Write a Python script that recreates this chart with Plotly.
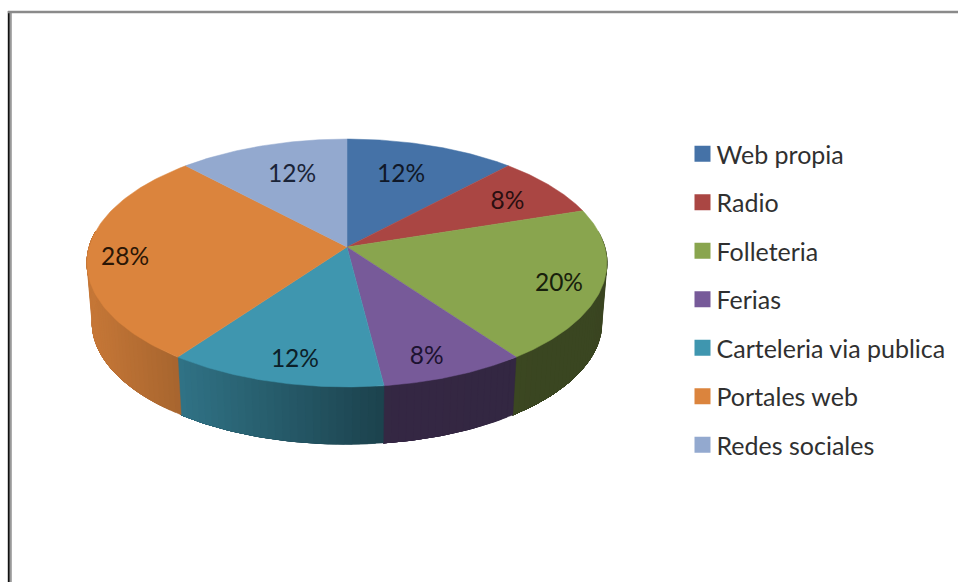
import numpy as np
import plotly.graph_objects as go

categories = ["Web propia", "Radio", "Folleteria", "Ferias", "Carteleria via publica", "Portales web", "Redes sociales"]
shares = [12, 8, 20, 8, 12, 28, 12]
colors = ["#4572A7", "#AA4643", "#89A54E", "#775A99", "#3F96AF", "#DB843D", "#93A9CF"]
label_reach = [0.70, 0.77, 0.84, 0.84, 0.835, 0.856, 0.70]
label_turn = [-2.6, 0.7, 1.3, 2.3, -1.9, -1.3, 2.3]
label_colors = ["#101828", "#2a0f10", "#18200c", "#1c1230", "#0c2028", "#2a1606", "#1a2438"]

W, H = 958, 582
CX, CY = 347, 247          # apex of the pie on the page
RX, RY, PERSP = 257.8, 121.9, 0.129
WALL_SCALE, WALL_DROP = 0.98, 60
LABEL_DROP = 3
SHADE_X = [90, 180, 383, 610]
SHADE_K = [0.90, 0.76, 0.44, 0.42]


def project(theta, r=1.0):
    u, v = r * np.sin(theta), -r * np.cos(theta)
    d = 1 - PERSP * v
    return CX + RX * u / d, CY + RY * v / d


def lower(x, y):
    return CX + WALL_SCALE * (x - CX), CY + WALL_SCALE * (y - CY) + WALL_DROP


def shade(hex_color, k):
    rgb = [int(hex_color[i:i + 2], 16) for i in (1, 3, 5)]
    return "rgb(%d,%d,%d)" % tuple(round(c * k) for c in rgb)


def wall_polygon(a0, a1, n):
    t = np.linspace(a0, a1, n)
    xt, yt = project(t)
    xb, yb = lower(xt, yt)
    return np.r_[xt, xb[::-1], xt[0]], np.r_[yt, yb[::-1], yt[0]]


total = sum(shares)
edges = np.radians(np.cumsum([0] + shares) / total * 360)
fig = go.Figure()

# side wall: visible front half of the disc; each shaded strip is painted
# from its own start to the end of the slice, and the next one covers the rest
wall_start = np.pi * 0.5 - 0.13
wall_end = np.pi * 1.5 + 0.13
for i, col in enumerate(colors):
    a0, a1 = max(edges[i], wall_start), min(edges[i + 1], wall_end)
    if a1 <= a0:
        continue
    n = max(2, int(np.degrees(a1 - a0) / 1.5))
    steps = np.linspace(a0, a1, n + 1)
    for s0 in steps[:-1]:
        px, py = wall_polygon(s0, a1, 40)
        s_x = project(s0 + (a1 - a0) / (2 * n))[0]
        c = shade(col, float(np.interp(s_x, SHADE_X, SHADE_K)))
        fig.add_trace(go.Scatter(x=px, y=py, mode="lines", fill="toself", fillcolor=c,
                                 line=dict(color=c, width=0.4), showlegend=False, hoverinfo="skip"))

# top face
for i, col in enumerate(colors):
    t = np.linspace(edges[i], edges[i + 1], 80)
    xt, yt = project(t)
    fig.add_trace(go.Scatter(
        x=np.r_[CX, xt, CX], y=np.r_[CY, yt, CY],
        mode="lines", fill="toself", fillcolor=col, line=dict(color=col, width=0.5),
        name=categories[i], showlegend=False, hoverinfo="name"))

# value labels
mid = (edges[:-1] + edges[1:]) / 2 + np.radians(label_turn)
lx, ly = project(mid, np.array(label_reach))
fig.add_trace(go.Scatter(
    x=lx, y=ly + LABEL_DROP, mode="text", text=[f"{s}%" for s in shares],
    textposition="middle center",
    textfont=dict(family="Lato", size=24.5, color=label_colors),
    showlegend=False, hoverinfo="skip"))

# legend
for i, name in enumerate(categories):
    fig.add_trace(go.Scatter(
        x=[None], y=[None], mode="markers", name=name, legendgroup=name,
        marker=dict(symbol="square", size=16, color=colors[i])))

fig.update_layout(
    width=W, height=H, margin=dict(l=0, r=0, t=0, b=0),
    paper_bgcolor="white", plot_bgcolor="white",
    xaxis=dict(range=[0, W], visible=False, fixedrange=True),
    yaxis=dict(range=[H, 0], visible=False, fixedrange=True),
    legend=dict(x=688.5 / W, y=1 - 131 / H, xanchor="left", yanchor="top",
                font=dict(family="Lato", size=25, color="#303030"),
                tracegroupgap=13, itemwidth=30, indentation=-12, bgcolor="rgba(0,0,0,0)"),
    shapes=[
        dict(type="line", xref="x", yref="y", x0=8.8, x1=8.8, y0=11, y1=H, line=dict(color="#111111", width=2)),
        dict(type="line", xref="x", yref="y", x0=10.8, x1=10.8, y0=11, y1=H, line=dict(color="#999999", width=2)),
        dict(type="line", xref="x", yref="y", x0=8, x1=W, y0=12, y1=12, line=dict(color="#8a8a8a", width=2.5)),
    ],
)
post = """
document.body.style.margin='0';document.body.style.overflow='hidden';
function nudge(){document.querySelectorAll('.legendsymbols').forEach(function(g){g.setAttribute('transform','translate(6,0)');});}
nudge();setTimeout(nudge,0);setTimeout(nudge,50);
var gd=document.getElementById('{plot_id}');if(gd&&gd.on){gd.on('plotly_afterplot',nudge);}
"""
fig.write_html("out.html", config={"displayModeBar": False}, post_script=post)
